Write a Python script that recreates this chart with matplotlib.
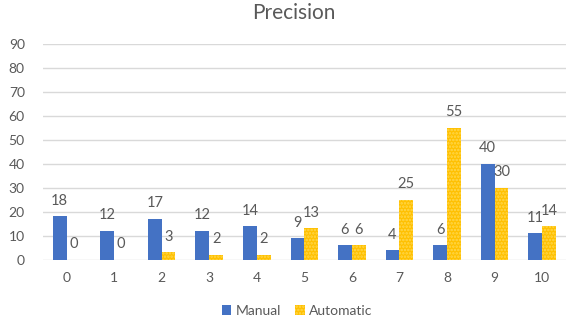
import matplotlib
matplotlib.use("Agg")
import matplotlib.pyplot as plt
import numpy as np

plt.rcParams['font.family'] = ['Lato', 'DejaVu Sans']
plt.rcParams['hatch.linewidth'] = 1.2

categories = ['0', '1', '2', '3', '4', '5', '6', '7', '8', '9', '10']
manual = [18, 12, 17, 12, 14, 9, 6, 4, 6, 40, 11]
automatic = [0, 0, 3, 2, 2, 13, 6, 25, 55, 30, 14]
y_ticks = [0, 10, 20, 30, 40, 50, 60, 70, 80, 90]

blue = '#4472C4'
gold = '#FFC000'
text_gray = '#595959'

fig = plt.figure(figsize=(5.71, 3.25), dpi=100)
ax = fig.add_axes([0.075, 0.2015, 0.916, 0.6645])

x = np.arange(len(categories))
w = 0.29
b1 = ax.bar(x - w / 2, manual, width=w, color=blue, linewidth=0, zorder=3,
            label='Manual')
b2 = ax.bar(x + w / 2, automatic, width=w, color=gold, linewidth=0,
            hatch='.....', edgecolor='#FFD84D', zorder=3, label='Automatic')

for bars, vals in ((b1, manual), (b2, automatic)):
    for r, v in zip(bars, vals):
        ax.annotate(str(v), (r.get_x() + r.get_width() / 2, v),
                    xytext=(0, 11), textcoords='offset points',
                    ha='center', va='center', fontsize=10.5, color=text_gray)

ax.set_xlim(-0.5, len(categories) - 0.5)
ax.set_ylim(0, 90)
ax.set_yticks(y_ticks)
ax.set_xticks(x)
ax.set_xticklabels(categories)
ax.tick_params(length=0, labelsize=10, colors=text_gray)
ax.tick_params(axis='y', pad=13)
ax.tick_params(axis='x', pad=9)
ax.grid(axis='y', color='#D9D9D9', linewidth=1, zorder=0)
for s in ax.spines.values():
    s.set_visible(False)

fig.suptitle('Precision', x=0.515, y=0.99, fontsize=15, color=text_gray)

leg = fig.legend(handles=[b1, b2], loc='center', bbox_to_anchor=(0.52, 0.044),
                 ncol=2, frameon=False, fontsize=10, handlelength=0.7,
                 handleheight=0.7, handletextpad=0.3, columnspacing=1.0)
for t in leg.get_texts():
    t.set_color(text_gray)

fig.savefig('out.png', dpi=100)
